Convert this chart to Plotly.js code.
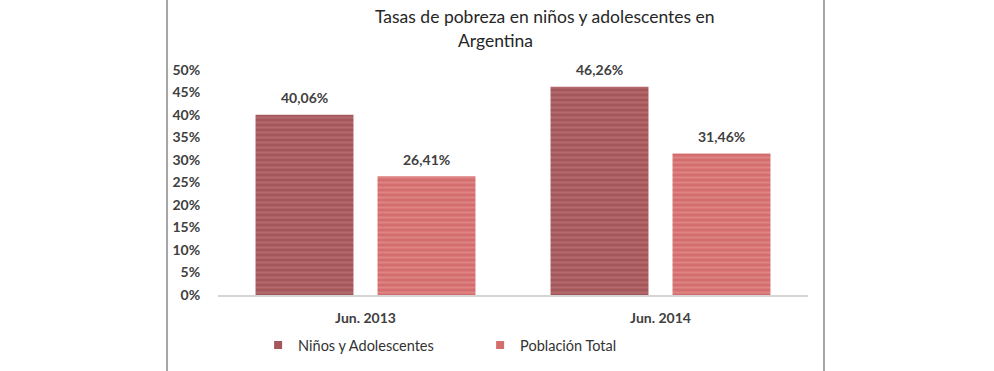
<!DOCTYPE html>
<html>
<head>
<meta charset="utf-8">
<script src="https://cdn.plot.ly/plotly-3.0.1.min.js"></script>
<style>html,body{margin:0;padding:0;background:#fff;}#chart{width:994px;height:371px;}</style>
</head>
<body>
<div id="chart"></div>
<script>
var categories = ["Jun. 2013", "Jun. 2014"];
var seriesNames = ["Niños y Adolescentes", "Población Total"];
var ninos = [0.4006, 0.4626];
var poblacion = [0.2641, 0.3146];
var yTicks = [0, 0.05, 0.10, 0.15, 0.20, 0.25, 0.30, 0.35, 0.40, 0.45, 0.50];
var titleLine1 = "Tasas de pobreza en niños y adolescentes en";
var titleLine2 = "Argentina";

var FONT = "Lato, 'Open Sans', sans-serif";
var colors = ["#a4575a", "#d46e6e"];
var stripe = ["#b46a6d", "#de8584"];
var seriesData = [ninos, poblacion];

var traces = [];
seriesData.forEach(function (vals, i) {
  traces.push({
    type: "bar",
    x: categories,
    y: vals,
    name: seriesNames[i],
    showlegend: false,
    marker: {
      color: colors[i],
      line: {width: 0},
      pattern: {shape: "-", fgcolor: stripe[i], bgcolor: colors[i], size: 5, solidity: 0.4}
    },
    hoverinfo: "skip"
  });
});
seriesData.forEach(function (vals, i) {
  traces.push({
    type: "scatter",
    mode: "markers",
    x: [null],
    y: [null],
    name: seriesNames[i],
    marker: {symbol: "square", size: 8, color: colors[i]},
    showlegend: true
  });
});

var annotations = [];
var shifts = [-61, 61];
seriesData.forEach(function (vals, i) {
  vals.forEach(function (v, j) {
    annotations.push({
      x: categories[j], y: v, xref: "x", yref: "y",
      text: (v * 100).toFixed(2).replace(".", ",") + "%",
      showarrow: false, xshift: shifts[i], yshift: 17,
      font: {family: FONT, size: 14, color: "#404040", weight: "bold"}
    });
  });
});
annotations.push({
  xref: "paper", yref: "paper", x: 0.554, y: 1.2356, xanchor: "center", yanchor: "middle",
  text: titleLine1, showarrow: false,
  font: {family: FONT, size: 17.5, color: "#262626"}
});
annotations.push({
  xref: "paper", yref: "paper", x: 0.4695, y: 1.129, xanchor: "center", yanchor: "middle",
  text: titleLine2, showarrow: false,
  font: {family: FONT, size: 17.5, color: "#262626"}
});

var layout = {
  width: 994, height: 371,
  margin: {l: 218, r: 186, t: 70, b: 76, pad: 0, autoexpand: false},
  paper_bgcolor: "#ffffff", plot_bgcolor: "#ffffff",
  separators: ",.",
  bargap: 0.173, bargroupgap: 0.197, barmode: "group",
  font: {family: FONT, color: "#404040"},
  xaxis: {
    type: "category",
    showline: true, linecolor: "#d4d4d4", linewidth: 1.5,
    showgrid: false, zeroline: false,
    ticks: "outside", ticklen: 10, tickcolor: "rgba(0,0,0,0)",
    tickfont: {family: FONT, size: 14, color: "#404040", weight: "bold"}
  },
  yaxis: {
    range: [0, 0.5], tickvals: yTicks, tickformat: ".0%",
    showline: false, showgrid: false, zeroline: false,
    ticks: "outside", ticklen: 14, tickcolor: "rgba(0,0,0,0)",
    tickfont: {family: FONT, size: 14, color: "#404040", weight: "bold"}
  },
  legend: {
    orientation: "h", x: 0.068, xanchor: "left", y: -0.223, yanchor: "middle",
    font: {family: FONT, size: 14.5, color: "#333333"},
    entrywidth: 177, entrywidthmode: "pixels",
    bgcolor: "rgba(0,0,0,0)"
  },
  annotations: annotations,
  shapes: [
    {type: "line", xref: "paper", yref: "paper", x0: -0.0864, x1: -0.0864, y0: -0.34, y1: 1.32, line: {color: "#a6a6a6", width: 2}},
    {type: "line", xref: "paper", yref: "paper", x0: 1.0271, x1: 1.0271, y0: -0.34, y1: 1.32, line: {color: "#a6a6a6", width: 2}}
  ]
};

Plotly.newPlot("chart", traces, layout, {displayModeBar: false, staticPlot: true});
</script>
</body>
</html>
